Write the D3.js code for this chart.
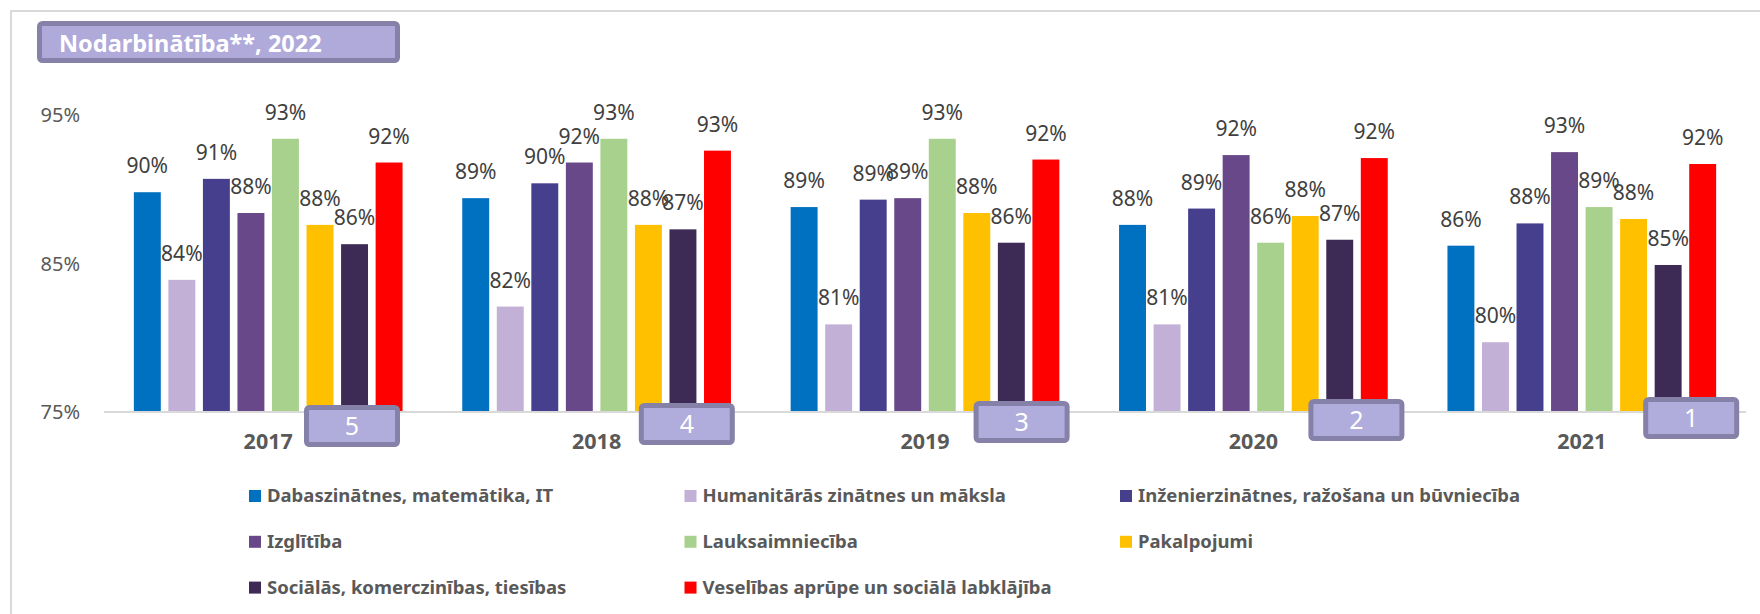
<!DOCTYPE html>
<html>
<head>
<meta charset="utf-8">
<script src="https://cdn.jsdelivr.net/npm/d3@7/dist/d3.min.js"></script>
<style>
  body { margin: 0; background: #fff; }
  svg { display: block; font-family: "Noto Sans", "Open Sans", sans-serif; }
</style>
</head>
<body>
<script>
// gadi un nozares
var years = ["2017", "2018", "2019", "2020", "2021"];
var series = [
    "Dabaszinātnes, matemātika, IT",
    "Humanitārās zinātnes un māksla",
    "Inženierzinātnes, ražošana un būvniecība",
    "Izglītība",
    "Lauksaimniecība",
    "Pakalpojumi",
    "Sociālās, komerczinības, tiesības",
    "Veselības aprūpe un sociālā labklājība"
];
var colors = ["#0070c0", "#c3b0d6", "#463f8d", "#684888", "#a9d18e", "#ffc000", "#3d2b55", "#ff0000"];
// vērtības pa nozarēm (secība = years)
var dabasz = [89.8, 89.4, 88.8, 87.6, 86.2];
var human = [83.9, 82.1, 80.9, 80.9, 79.7];
var inzen = [90.7, 90.4, 89.3, 88.7, 87.7];
var izgl = [88.4, 91.8, 89.4, 92.3, 92.5];
var lauks = [93.4, 93.4, 93.4, 86.4, 88.8];
var pakalp = [87.6, 87.6, 88.4, 88.2, 88.0];
var social = [86.3, 87.3, 86.4, 86.6, 84.9];
var veselib = [91.8, 92.6, 92.0, 92.1, 91.7];
var yTicks = [75, 85, 95];
var boxLabels = ["5", "4", "3", "2", "1"];

var values = [dabasz, human, inzen, izgl, lauks, pakalp, social, veselib];
var width = 1760, height = 614;

var svg = d3.select("body").append("svg").attr("width", width).attr("height", height);

//ārējais rāmis
svg.append("rect").attr("x", 11).attr("y", 11).attr("width", 1800).attr("height", 700)
    .style("fill", "none").style("stroke", "#d9d9d9").style("stroke-width", 2);

//virsraksts
svg.append("rect").attr("x", 39.5).attr("y", 23.5).attr("width", 358).attr("height", 37).attr("rx", 3)
    .style("fill", "#b0aadb").style("stroke", "#8681a8").style("stroke-width", 5);
svg.append("text").attr("x", 59).attr("y", 51.5).text("Nodarbinātība**, 2022")
    .style("font-size", "23.5px").style("font-weight", "bold").style("fill", "#fff");

var x0 = d3.scaleBand().domain(years).range([104, 1746]);
var x1 = d3.scaleBand().domain(d3.range(series.length))
    .range([29.85, x0.bandwidth() - 29.85]).paddingInner(0.22);
var y = d3.scaleLinear().domain([75, 95]).range([412, 115]);

//y ass
svg.selectAll("text.ytick").data(yTicks).enter().append("text").classed("ytick", true)
    .attr("x", 80).attr("y", function (d) { return y(d); }).attr("dy", "0.35em")
    .attr("text-anchor", "end").text(function (d) { return d + "%"; })
    .style("font-size", "20px").style("fill", "#595959");

//stabiņi
var groups = svg.selectAll("g.year").data(years).enter().append("g").classed("year", true)
    .attr("transform", function (d) { return "translate(" + x0(d) + ",0)"; });
groups.selectAll("rect").data(function (d, i) {
    return values.map(function (s, k) { return { k: k, v: s[i] }; });
}).enter().append("rect")
    .attr("x", function (d) { return x1(d.k); })
    .attr("y", function (d) { return y(d.v); })
    .attr("width", x1.bandwidth())
    .attr("height", function (d) { return y(75) - y(d.v); })
    .style("fill", function (d) { return colors[d.k]; });

//x ass līnija
svg.append("line").attr("x1", 104).attr("x2", 1746).attr("y1", y(75)).attr("y2", y(75))
    .style("stroke", "#d9d9d9").style("stroke-width", 2);

//datu etiķetes
groups.selectAll("text.lbl").data(function (d, i) {
    return values.map(function (s, k) { return { k: k, v: s[i] }; });
}).enter().append("text").classed("lbl", true)
    .attr("x", function (d) { return x1(d.k) + x1.bandwidth() / 2; })
    .attr("y", function (d) { return y(d.v) - 19; })
    .attr("text-anchor", "middle")
    .text(function (d) { return Math.round(d.v) + "%"; })
    .style("font-size", "21px").style("fill", "#404040");

//gadi
svg.selectAll("text.xl").data(years).enter().append("text").classed("xl", true)
    .attr("x", function (d) { return x0(d) + x0.bandwidth() / 2; })
    .attr("y", 449).attr("text-anchor", "middle").text(function (d) { return d; })
    .style("font-size", "21.5px").style("font-weight", "bold").style("fill", "#595959");

//numurētās kastītes
var boxes = svg.selectAll("g.box").data(boxLabels).enter().append("g").classed("box", true)
    .attr("transform", function (d, i) {
        return "translate(" + (x0(years[i]) + 202.5 + i * 6.4) + "," + (407.5 - i * 2) + ")";
    });
boxes.append("rect").attr("width", 91).attr("height", 37).attr("rx", 3)
    .style("fill", "#b0acdc").style("stroke", "#8681a8").style("stroke-width", 5);
boxes.append("text").attr("x", 45.5).attr("y", 18.5).attr("dy", "0.36em").attr("text-anchor", "middle")
    .text(function (d) { return d; }).style("font-size", "25px").style("fill", "#fff");

//leģenda
var legend = svg.selectAll("g.leg").data(series).enter().append("g").classed("leg", true)
    .attr("transform", function (d, i) {
        return "translate(" + (249 + (i % 3) * 435.5) + "," + (496 + Math.floor(i / 3) * 45.8) + ")";
    });
legend.append("rect").attr("x", 0).attr("y", -6).attr("width", 12).attr("height", 12)
    .style("fill", function (d, i) { return colors[i]; });
legend.append("text").attr("x", 18).attr("y", 0).attr("dy", "0.35em").text(function (d) { return d; })
    .style("font-size", "18.5px").style("font-weight", "bold").style("fill", "#595959");
</script>
</body>
</html>
